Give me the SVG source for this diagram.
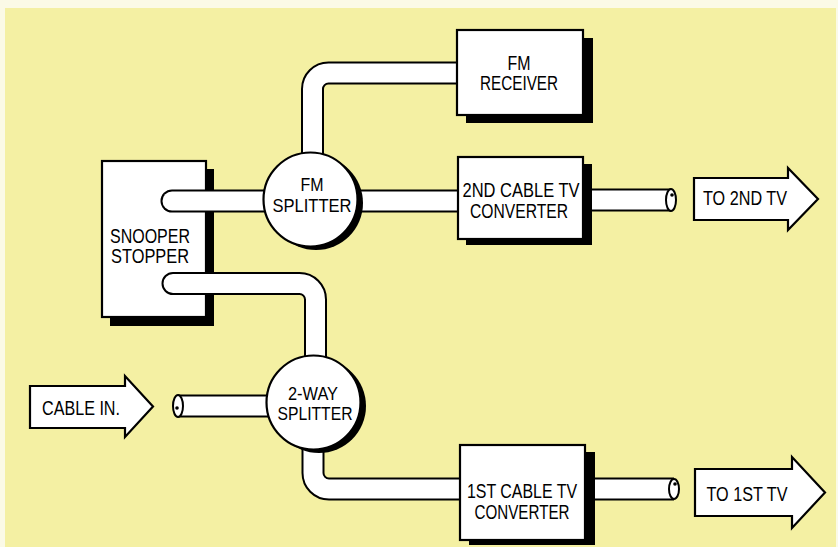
<svg xmlns="http://www.w3.org/2000/svg" width="838" height="547" viewBox="0 0 838 547">
<defs>
<style>
.bg{fill:#f4f0a3}
.box{fill:#ffffff;stroke:#000;stroke-width:2.2}
.shadow{fill:#000}
.arrow{fill:#ffffff;stroke:#000;stroke-width:2.2;stroke-linejoin:miter}
.cblo{fill:none;stroke:#000;stroke-width:23}
.cbli{fill:none;stroke:#fff;stroke-width:19}
.rnd{stroke-linecap:round}
.end{fill:#fff;stroke:#000;stroke-width:2}
.dot{fill:#000}
text{font-family:"Liberation Sans",Arial,sans-serif;font-size:20px;fill:#000;text-anchor:middle}
.sm{font-size:19px}
</style>
</defs>
<rect x="0" y="0" width="838" height="547" fill="#fbfae6"/>
<rect class="bg" x="5" y="8" width="831" height="539"/>

<g id="snooper-stopper">
<rect class="shadow" x="110" y="169" width="104" height="157"/>
<rect class="box" x="102" y="161" width="104" height="156"/>
<text x="150" y="243" textLength="80" lengthAdjust="spacingAndGlyphs">SNOOPER</text>
<text x="150" y="263" textLength="78" lengthAdjust="spacingAndGlyphs">STOPPER</text>
</g>

<g id="connectors">
<path class="cblo rnd" d="M172,201 H460"/>
<path class="cbli rnd" d="M172,201 H460"/>
<path class="cblo" d="M312.5,170 V89 A16 16 0 0 1 328.5,73 H460"/>
<path class="cbli" d="M312.5,170 V89 A16 16 0 0 1 328.5,73 H460"/>
<path class="cblo rnd" d="M173,283.5 H299.5 A16 16 0 0 1 315.5,299.5 V370"/>
<path class="cbli rnd" d="M173,283.5 H299.5 A16 16 0 0 1 315.5,299.5 V370"/>
<path class="cblo" d="M178,406 H290"/>
<path class="cbli" d="M178,406 H290"/>
<ellipse class="end" cx="178" cy="406" rx="5" ry="11"/>
<circle class="dot" cx="177" cy="408" r="1.8"/>
<path class="cblo" d="M313,430 V473 A16 16 0 0 0 329,489 H462"/>
<path class="cbli" d="M313,430 V473 A16 16 0 0 0 329,489 H462"/>
<path class="cblo" d="M580,200 H671"/>
<path class="cbli" d="M580,200 H671"/>
<ellipse class="end" cx="671" cy="200" rx="5" ry="11"/>
<circle class="dot" cx="672" cy="195" r="1.8"/>
<path class="cblo" d="M580,489 H674"/>
<path class="cbli" d="M580,489 H674"/>
<ellipse class="end" cx="674" cy="489" rx="5" ry="10"/>
<circle class="dot" cx="675" cy="484" r="1.8"/>
</g>

<g id="fm-receiver">
<rect class="shadow" x="466" y="38" width="127" height="85"/>
<rect class="box" x="457" y="30" width="126" height="85"/>
<text x="519" y="70" textLength="23" lengthAdjust="spacingAndGlyphs">FM</text>
<text x="519" y="90" textLength="78" lengthAdjust="spacingAndGlyphs">RECEIVER</text>
</g>

<g id="fm-splitter">
<circle class="shadow" cx="316" cy="203" r="47"/>
<circle class="box" cx="310.5" cy="199.5" r="47"/>
<text class="sm" x="312" y="191" textLength="23" lengthAdjust="spacingAndGlyphs">FM</text>
<text class="sm" x="312" y="212" textLength="79" lengthAdjust="spacingAndGlyphs">SPLITTER</text>
</g>

<g id="cable-tv-converter-2">
<rect class="shadow" x="466" y="164" width="126" height="81"/>
<rect class="box" x="458" y="157" width="125" height="82"/>
<text x="521" y="197" textLength="117" lengthAdjust="spacingAndGlyphs">2ND CABLE TV</text>
<text x="519" y="218" textLength="98" lengthAdjust="spacingAndGlyphs">CONVERTER</text>
</g>

<g id="two-way-splitter">
<circle class="shadow" cx="319" cy="406" r="47"/>
<circle class="box" cx="313.5" cy="402.5" r="47"/>
<text class="sm" x="313" y="400" textLength="50" lengthAdjust="spacingAndGlyphs">2-WAY</text>
<text class="sm" x="315" y="420" textLength="75" lengthAdjust="spacingAndGlyphs">SPLITTER</text>
</g>

<g id="cable-tv-converter-1">
<rect class="shadow" x="469" y="452" width="126" height="93"/>
<rect class="box" x="460" y="445" width="125" height="95"/>
<text x="522" y="498" textLength="110" lengthAdjust="spacingAndGlyphs">1ST CABLE TV</text>
<text x="522" y="519" textLength="95" lengthAdjust="spacingAndGlyphs">CONVERTER</text>
</g>

<g id="cable-in">
<polygon class="arrow" points="30,386 125,386 125,376 153,406.5 125,437 125,428 30,428"/>
<text x="81" y="415" textLength="78" lengthAdjust="spacingAndGlyphs">CABLE IN.</text>
</g>

<g id="to-2nd-tv">
<polygon class="arrow" points="694,178 788,178 788,168 818,199 788,230 788,220 694,220"/>
<text x="745" y="205" textLength="84" lengthAdjust="spacingAndGlyphs">TO 2ND TV</text>
</g>

<g id="to-1st-tv">
<polygon class="arrow" points="695,469 792,469 792,457 825,492.5 792,528 792,516 695,516"/>
<text x="747" y="501" textLength="81" lengthAdjust="spacingAndGlyphs">TO 1ST TV</text>
</g>
</svg>
